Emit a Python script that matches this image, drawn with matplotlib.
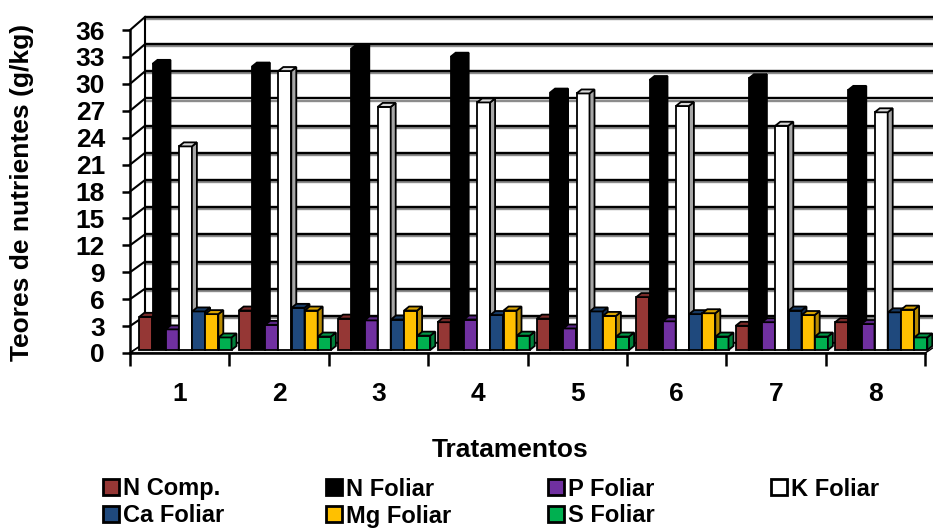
import matplotlib
matplotlib.use("Agg")
import matplotlib.pyplot as plt
from matplotlib.patches import Polygon, Rectangle
import matplotlib.patheffects as pe

plt.rcParams['font.family'] = ['Liberation Sans', 'DejaVu Sans']
plt.rcParams['font.weight'] = 'bold'

# ---- data -------------------------------------------------------------
treatments = ['1', '2', '3', '4', '5', '6', '7', '8']
series_names = ['N Comp.', 'N Foliar', 'P Foliar', 'K Foliar',
                'Ca Foliar', 'Mg Foliar', 'S Foliar']
n_comp = [3.7, 4.4, 3.5, 3.1, 3.5, 5.9, 2.7, 3.1]
n_foliar = [31.9, 31.6, 33.6, 32.7, 28.7, 30.1, 30.3, 29.0]
p_foliar = [2.3, 2.8, 3.3, 3.4, 2.4, 3.2, 3.1, 2.9]
k_foliar = [22.7, 31.1, 27.1, 27.6, 28.6, 27.2, 25.0, 26.5]
ca_foliar = [4.3, 4.7, 3.4, 3.9, 4.3, 4.0, 4.4, 4.2]
mg_foliar = [4.0, 4.4, 4.4, 4.4, 3.8, 4.1, 3.9, 4.5]
s_foliar = [1.4, 1.5, 1.6, 1.6, 1.5, 1.5, 1.5, 1.4]
y_ticks = list(range(0, 37, 3))

series = [n_comp, n_foliar, p_foliar, k_foliar, ca_foliar, mg_foliar, s_foliar]

# (front, side, top) colours for each series
colors = [
    ('#953735', '#6b2725', '#7a2c2a'),
    ('#000000', '#000000', '#000000'),
    ('#7030A0', '#4f2272', '#5a2685'),
    ('#ffffff', '#a6a6a6', '#d9d9d9'),
    ('#1F497D', '#14325a', '#173a63'),
    ('#FFC000', '#b88a00', '#d9a300'),
    ('#00B050', '#00803a', '#009444'),
]

# ---- geometry of the pseudo-3D box ------------------------------------
W, H = 933, 529
px_x = 99.4          # pixels per category
px_y = 8.97          # pixels per unit of value
ax_left, ax_bottom_px = 130, 353

wall_dx = 15 / px_x                      # depth offset of the back wall
def back_y(v):
    return 1.11 + v * (36.35 / 36)

bar_base = 3 / px_y                      # bars stand slightly behind the front edge
bar_off = 9.3 / px_x
bar_pitch = 13.2 / px_x
bar_w = 13.0 / px_x
side_dx = 5 / px_x
side_dy = 4 / px_y

fig = plt.figure(figsize=(W / 100, H / 100), dpi=100)
ax = fig.add_axes([ax_left / W, (H - ax_bottom_px) / H,
                   (W - ax_left) / W, ax_bottom_px / H])
ax.set_xlim(0, (W - ax_left) / px_x)
ax.set_ylim(0, ax_bottom_px / px_y)

n = len(treatments)
shadow = [pe.SimpleLineShadow(offset=(0, -1.5), shadow_color='#808080', alpha=0.9),
          pe.Normal()]

# back wall gridlines
for v in y_ticks:
    ax.plot([wall_dx, n + wall_dx + 1], [back_y(v)] * 2, color='black', lw=1.7,
            zorder=1, clip_on=False, path_effects=shadow, solid_capstyle='butt')
    # left wall diagonals
    ax.plot([0, wall_dx], [v, back_y(v)], color='black', lw=1.5, zorder=1.2,
            clip_on=False)
ax.plot([wall_dx, wall_dx], [back_y(0), back_y(36)], color='black', lw=1.5,
        zorder=1.2)

# floor
floor = Polygon([(0, 0), (n, 0), (n + wall_dx, back_y(0)), (wall_dx, back_y(0))],
                closed=True, facecolor='#f4f4f4', edgecolor='black', lw=1.0,
                zorder=1.5)
ax.add_patch(floor)

# bars with side and top faces
for i, (vals, (cf, cs, ct)) in enumerate(zip(series, colors)):
    z = 3 + i * 0.1
    xs = [g + bar_off + i * bar_pitch for g in range(n)]
    ax.bar(xs, vals, width=bar_w, bottom=bar_base, align='edge', color=cf,
           edgecolor='black', linewidth=1.3, zorder=z)
    for x, v in zip(xs, vals):
        top = bar_base + v
        side = Polygon([(x + bar_w, bar_base), (x + bar_w + side_dx, bar_base + side_dy),
                        (x + bar_w + side_dx, top + side_dy), (x + bar_w, top)],
                       closed=True, facecolor=cs, edgecolor='black', lw=1.3, zorder=z)
        cap = Polygon([(x, top), (x + side_dx, top + side_dy),
                       (x + bar_w + side_dx, top + side_dy), (x + bar_w, top)],
                      closed=True, facecolor=ct, edgecolor='black', lw=1.3, zorder=z)
        ax.add_patch(side)
        ax.add_patch(cap)

# axes: front value axis and category axis
for s in ['top', 'right']:
    ax.spines[s].set_visible(False)
ax.spines['left'].set_bounds(0, 36)
ax.spines['bottom'].set_bounds(0, n)
ax.spines['left'].set_linewidth(1.8)
ax.spines['bottom'].set_linewidth(1.8)
ax.spines['left'].set_zorder(5)
ax.spines['bottom'].set_zorder(5)

ax.set_yticks(y_ticks)
ax.set_yticklabels([str(t) for t in y_ticks])
ax.tick_params(axis='y', direction='out', length=6, width=1.8, pad=12,
               labelsize=19)

ax.set_xticks(range(n + 1))
ax.set_xticklabels([''] * (n + 1))
ax.tick_params(axis='x', which='major', direction='out', length=9, width=1.8)
ax.set_xticks([g + 0.5 for g in range(n)], minor=True)
ax.set_xticklabels(treatments, minor=True)
ax.tick_params(axis='x', which='minor', length=0, pad=21, labelsize=19)
for lbl in ax.get_xticklabels(minor=True) + ax.get_yticklabels():
    lbl.set_fontweight('bold')

fig.text(22 / W, 1 - 192 / H, 'Teores de nutrientes (g/kg)', rotation=90,
         ha='center', va='center', fontsize=19, fontweight='bold')
fig.text(510 / W, 1 - 457 / H, 'Tratamentos', ha='center', va='baseline',
         fontsize=19, fontweight='bold')

# legend, laid out in two rows of four columns
col_x = [103, 326, 548, 771]
row_y = [487, 514]
sq = 16
for k, name in enumerate(series_names):
    r, c = divmod(k, 4)
    x0, yc = col_x[c], row_y[r]
    fig.add_artist(Rectangle((x0 / W, 1 - (yc + sq / 2) / H), sq / W, sq / H,
                             transform=fig.transFigure, facecolor=colors[k][0],
                             edgecolor='black', linewidth=2.0))
    fig.text((x0 + sq + 4) / W, 1 - (yc + 8.5) / H, name, ha='left', va='baseline',
             fontsize=17, fontweight='bold')

fig.savefig('out.png', dpi=100)
